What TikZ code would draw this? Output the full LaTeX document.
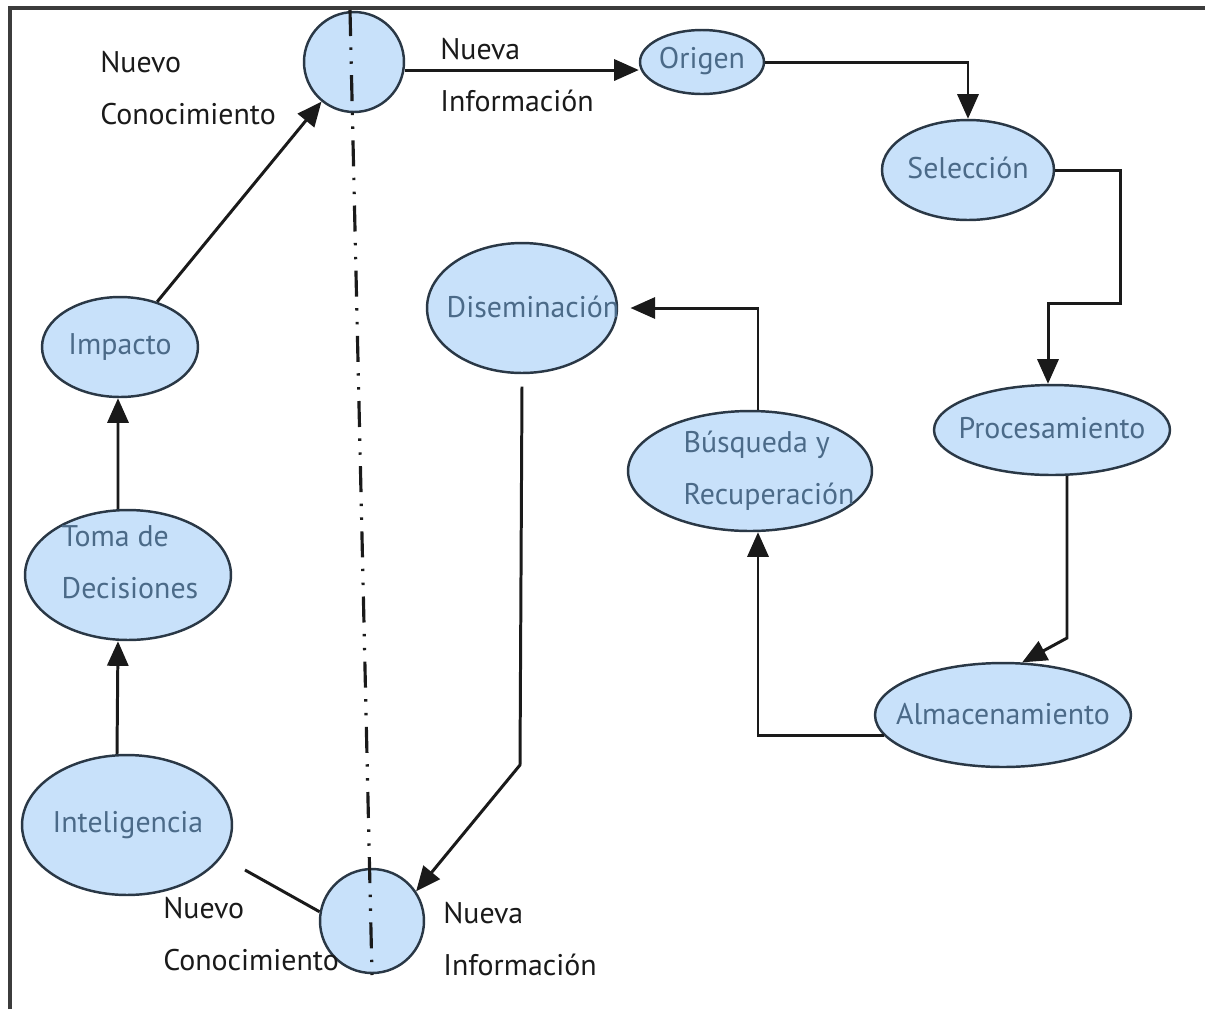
\documentclass[tikz,border=0pt]{standalone}
\usepackage{fontspec}
\setmainfont{PT Sans}
\usetikzlibrary{shapes.geometric,arrows.meta,calc}
\definecolor{bubble}{HTML}{C8E1FA}
\definecolor{bubbleline}{HTML}{2A3846}
\definecolor{bubbletext}{HTML}{4B6A88}
\definecolor{ink}{HTML}{1A1A1A}
\begin{document}
\begin{tikzpicture}[x=0.02cm,y=-0.02cm,
  bub/.style={ellipse, draw=bubbleline, fill=bubble, line width=1.4pt, inner sep=0pt},
  etext/.style={text=bubbletext, font=\fontsize{17}{29.6}\selectfont, align=left, inner sep=0pt},
  ltext/.style={text=ink, font=\fontsize{17}{29.6}\selectfont, align=left, inner sep=0pt, anchor=west},
  arr/.style={draw=ink, line width=1.7pt, -{Triangle[length=14pt,width=12pt]}},
  link/.style={draw=ink, line width=1.7pt},
  axisline/.style={draw=ink, line width=1.8pt, dash pattern=on 14.8pt off 6.5pt on 1.4pt off 6.5pt on 1.4pt off 6.5pt},
  frame/.style={draw=ink!85, line width=1.8pt}]
\useasboundingbox (0,0) rectangle (1205,1009);

% outer frame (left and top edges)
\draw[frame] (10,1009) -- (10,8) -- (1205,8);

% bubbles
\node[bub, circle, minimum size=2.0cm] (c1) at (354,62) {};
\node[bub, circle, minimum size=2.08cm] (c2) at (372,921) {};
\node[bub, minimum width=2.48cm, minimum height=1.28cm] (orig) at (702,62) {};
\node[bub, minimum width=3.44cm, minimum height=2.0cm] (sel) at (968,170) {};
\node[bub, minimum width=4.72cm, minimum height=1.8cm] (proc) at (1052,430) {};
\node[bub, minimum width=5.12cm, minimum height=2.08cm] (alm) at (1003,715) {};
\node[bub, minimum width=4.88cm, minimum height=2.4cm] (bus) at (750,471) {};
\node[bub, minimum width=3.8cm, minimum height=2.6cm] (dis) at (522,308) {};
\node[bub, minimum width=3.12cm, minimum height=2.0cm] (imp) at (120,347) {};
\node[bub, minimum width=4.12cm, minimum height=2.6cm] (toma) at (128,575) {};
\node[bub, minimum width=4.2cm, minimum height=2.8cm] (intel) at (127,825) {};

% axis through both circles
\coordinate (axtop) at (350,10);
\coordinate (axbot) at (372,975);
\draw[axisline] (axtop) -- (axbot);

% flow connectors
\coordinate (k1) at (1120,303);
\coordinate (k2) at (1067,638);
\coordinate (k6) at (520,765);
\coordinate (k7) at (245,870);
\draw[arr] (imp) -- (c1);
\draw[arr] (c1.-9) -- (c1.-9 -| orig.west);
\draw[arr] (orig.east) -| (sel.north);
\draw[arr] (sel.east) -| (k1) -| ([xshift=-0.08cm]proc.north);
\draw[arr] (proc.south -| k2) -- (k2) -- (alm.70);
\draw[arr] (alm.190) -| ([xshift=0.16cm]bus.south);
\draw[arr, shorten >=7pt] ([xshift=0.16cm]bus.north) |- (dis.east);
\draw[arr] ([yshift=-7pt]dis.south) -- (k6) -- (c2.34);
\draw[link] (k7) -- (c2.170);
\draw[arr] ([xshift=-0.2cm]intel.north) -- ([xshift=-0.2cm]toma.south);
\draw[arr] ([xshift=-0.2cm]toma.north) -- ([xshift=-0.04cm]imp.south);

% bubble texts
\node[etext] (orig-t) at (702,61) {Origen};
\node[etext] (sel-t) at (968,168) {Selección};
\node[etext] (proc-t) at (1052,428) {Procesamiento};
\node[etext] (alm-t) at (1003,714) {Almacenamiento};
\node[etext] (bus-t) at (769,471) {Búsqueda y\\Recuperación};
\node[etext] (dis-t) at (533,307) {Diseminación};
\node[etext] (imp-t) at (120,347) {Impacto};
\node[etext] (toma-t) at (130,562) {Toma de\\Decisiones};
\node[etext] (intel-t) at (128,825) {Inteligencia};

% side labels
\node[ltext] (nc1) at (100,88) {Nuevo\\Conocimiento};
\node[ltext] (ni1) at (440,75) {Nueva\\Información};
\node[ltext] (nc2) at (163,934) {Nuevo\\Conocimiento};
\node[ltext] (ni2) at (443,939) {Nueva\\Información};
\end{tikzpicture}
\end{document}
